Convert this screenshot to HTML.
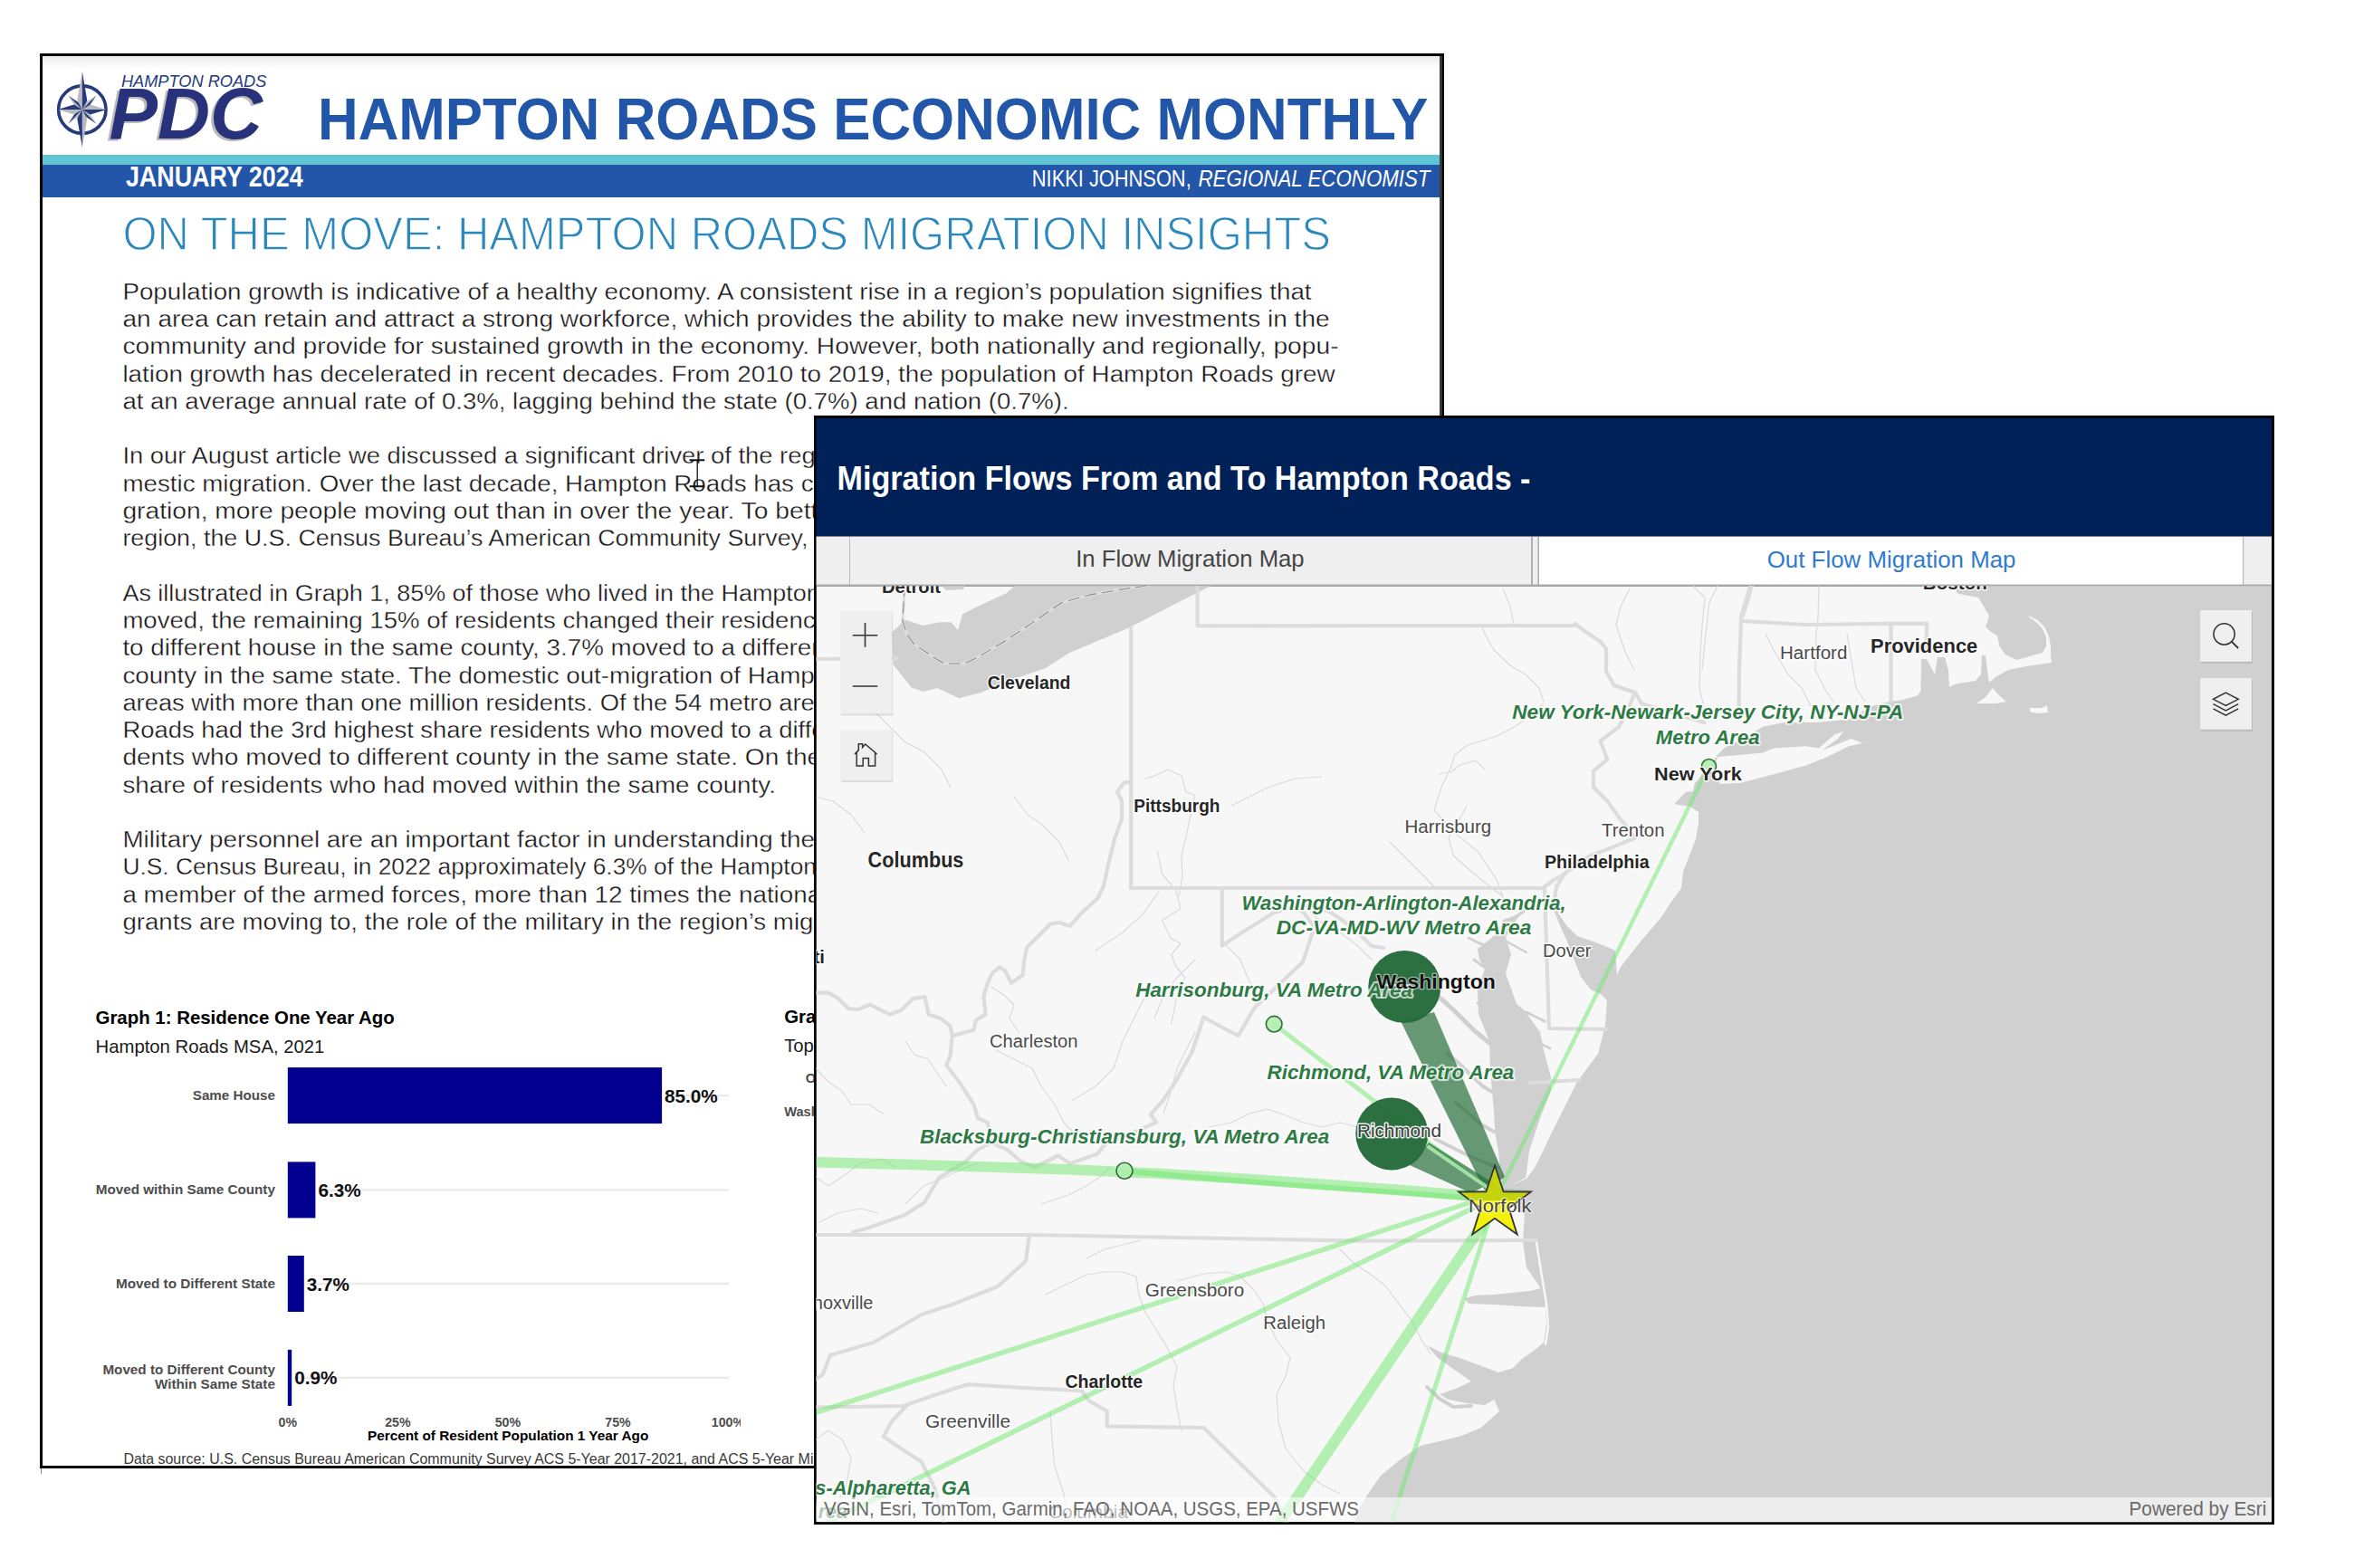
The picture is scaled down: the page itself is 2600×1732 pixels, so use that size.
<!DOCTYPE html>
<html><head><meta charset="utf-8"><title>Hampton Roads Economic Monthly - Migration Flows</title>
<style>
html,body{margin:0;padding:0;background:#fff;width:2600px;height:1732px;overflow:hidden}
svg{display:block}
text{font-family:'Liberation Sans', sans-serif;white-space:pre}
</style></head><body>
<svg width="2600" height="1732" viewBox="0 0 2600 1732">
<defs>
<linearGradient id="topshade" x1="0" y1="0" x2="0" y2="1"><stop offset="0" stop-color="#ececec"/><stop offset="1" stop-color="#ffffff"/></linearGradient>
</defs>
<rect x="0" y="0" width="2600" height="1732" fill="#ffffff"/>
<rect x="44" y="59" width="1551" height="1563" fill="#000"/>
<rect x="47" y="62" width="1543" height="1557" fill="#fff"/>
<rect x="1590" y="62" width="2.8" height="1557" fill="#3c3c3c"/>
<rect x="47" y="62" width="1543" height="14" fill="url(#topshade)"/>
<rect x="45" y="1622" width="1" height="6" fill="#888"/>
<rect x="47" y="171" width="1543" height="11" fill="#5fc4d3"/>
<rect x="47" y="182" width="1543" height="36" fill="#2356a8"/>
<g transform="translate(90.8,121.1)">
<circle r="26.2" fill="none" stroke="#263a7c" stroke-width="3.6"/>
<polygon points="15.56,-15.56 1.98,-6.51 0,0" fill="#b9babe"/>
<polygon points="15.56,-15.56 6.51,-1.98 0,0" fill="#263a7c"/>
<polygon points="15.56,15.56 6.51,1.98 0,0" fill="#b9babe"/>
<polygon points="15.56,15.56 1.98,6.51 0,0" fill="#263a7c"/>
<polygon points="-15.56,15.56 -1.98,6.51 0,0" fill="#b9babe"/>
<polygon points="-15.56,15.56 -6.51,1.98 0,0" fill="#263a7c"/>
<polygon points="-15.56,-15.56 -6.51,-1.98 0,0" fill="#b9babe"/>
<polygon points="-15.56,-15.56 -1.98,-6.51 0,0" fill="#263a7c"/>
<polygon points="0.00,-42.00 -5.50,-10.00 0,0" fill="#b9babe"/>
<polygon points="0.00,-42.00 5.50,-10.00 0,0" fill="#263a7c"/>
<polygon points="27.00,-0.00 9.00,-5.50 0,0" fill="#b9babe"/>
<polygon points="27.00,-0.00 9.00,5.50 0,0" fill="#263a7c"/>
<polygon points="0.00,42.00 5.50,10.00 0,0" fill="#b9babe"/>
<polygon points="0.00,42.00 -5.50,10.00 0,0" fill="#263a7c"/>
<polygon points="-27.00,0.00 -9.00,5.50 0,0" fill="#b9babe"/>
<polygon points="-27.00,0.00 -9.00,-5.50 0,0" fill="#263a7c"/>
</g>
<text x="133.9" y="95.9" font-size="18.9" font-weight="500" font-style="italic" fill="#263a7c" textLength="160.5" lengthAdjust="spacingAndGlyphs">HAMPTON ROADS</text>
<text x="117.5" y="155.2" font-size="80" font-weight="bold" font-style="italic" fill="#b9b9bb" textLength="170.0" lengthAdjust="spacingAndGlyphs">PDC</text>
<text x="120.5" y="153.2" font-size="80" font-weight="bold" font-style="italic" fill="#27327a" textLength="169.5" lengthAdjust="spacingAndGlyphs">PDC</text>
<text x="351.0" y="153.9" font-size="65.4" font-weight="bold" fill="#2256a8" textLength="1226.5" lengthAdjust="spacingAndGlyphs">HAMPTON ROADS ECONOMIC MONTHLY</text>
<text x="138.9" y="205.8" font-size="31.2" font-weight="bold" fill="#ffffff" textLength="195.8" lengthAdjust="spacingAndGlyphs">JANUARY 2024</text>
<text x="1139.8" y="205.7" font-size="26.2" fill="#ffffff" textLength="175.9" lengthAdjust="spacingAndGlyphs">NIKKI JOHNSON,</text>
<text x="1323.5" y="205.7" font-size="26.2" font-style="italic" fill="#ffffff" textLength="256.0" lengthAdjust="spacingAndGlyphs">REGIONAL ECONOMIST</text>
<text x="135.4" y="276.0" font-size="51.9" fill="#2a88bd" textLength="1334.5" lengthAdjust="spacingAndGlyphs" stroke="#ffffff" stroke-width="1.3">ON THE MOVE: HAMPTON ROADS MIGRATION INSIGHTS</text>
<text x="105.5" y="1131.0" font-size="20.4" font-weight="bold" fill="#000" textLength="330.3" lengthAdjust="spacingAndGlyphs">Graph 1: Residence One Year Ago</text>
<text x="105.5" y="1162.6" font-size="20.3" fill="#1a1a1a" textLength="252.9" lengthAdjust="spacingAndGlyphs">Hampton Roads MSA, 2021</text>
<rect x="734.1" y="1208.9" width="70.9" height="2.4" fill="#ebebeb"/>
<rect x="317.8" y="1179.1" width="413.3" height="62" fill="#03008f"/>
<text x="734.1" y="1217.6" font-size="20.7" font-weight="bold" fill="#111">85.0%</text>
<text x="212.8" y="1214.6" font-size="14.6" font-weight="bold" fill="#4d4d4d" textLength="91.1" lengthAdjust="spacingAndGlyphs">Same House</text>
<rect x="351.4" y="1313.2" width="453.6" height="2.4" fill="#ebebeb"/>
<rect x="317.8" y="1283.4" width="30.6" height="62" fill="#03008f"/>
<text x="351.4" y="1321.9" font-size="20.7" font-weight="bold" fill="#111">6.3%</text>
<text x="105.7" y="1318.9" font-size="14.6" font-weight="bold" fill="#4d4d4d" textLength="198.2" lengthAdjust="spacingAndGlyphs">Moved within Same County</text>
<rect x="338.8" y="1416.8" width="466.2" height="2.4" fill="#ebebeb"/>
<rect x="317.8" y="1387.0" width="18.0" height="62" fill="#03008f"/>
<text x="338.8" y="1425.5" font-size="20.7" font-weight="bold" fill="#111">3.7%</text>
<text x="127.9" y="1422.5" font-size="14.6" font-weight="bold" fill="#4d4d4d" textLength="176.0" lengthAdjust="spacingAndGlyphs">Moved to Different State</text>
<rect x="325.2" y="1520.7" width="479.8" height="2.4" fill="#ebebeb"/>
<rect x="317.8" y="1490.9" width="4.4" height="62" fill="#03008f"/>
<text x="325.2" y="1529.4" font-size="20.7" font-weight="bold" fill="#111">0.9%</text>
<text x="113.4" y="1518.4" font-size="14.6" font-weight="bold" fill="#4d4d4d" textLength="190.5" lengthAdjust="spacingAndGlyphs">Moved to Different County</text>
<text x="170.9" y="1534.4" font-size="14.6" font-weight="bold" fill="#4d4d4d" textLength="133.0" lengthAdjust="spacingAndGlyphs">Within Same State</text>
<clipPath id="axclip"><rect x="0" y="1500" width="818" height="100"/></clipPath><g clip-path="url(#axclip)">
<text x="317.8" y="1576.0" font-size="14.2" font-weight="bold" text-anchor="middle" fill="#4d4d4d">0%</text>
<text x="439.4" y="1576.0" font-size="14.2" font-weight="bold" text-anchor="middle" fill="#4d4d4d">25%</text>
<text x="560.9" y="1576.0" font-size="14.2" font-weight="bold" text-anchor="middle" fill="#4d4d4d">50%</text>
<text x="682.5" y="1576.0" font-size="14.2" font-weight="bold" text-anchor="middle" fill="#4d4d4d">75%</text>
<text x="804.0" y="1576.0" font-size="14.2" font-weight="bold" text-anchor="middle" fill="#4d4d4d">100%</text>
</g>
<text x="405.9" y="1591.3" font-size="15.3" font-weight="bold" fill="#000" textLength="310.4" lengthAdjust="spacingAndGlyphs">Percent of Resident Population 1 Year Ago</text>
<text x="136.4" y="1616.8" font-size="15.6" fill="#3a3a3a" transform="translate(136.4,0) scale(1.0235,1) translate(-136.4,0)">Data source: U.S. Census Bureau American Community Survey ACS 5-Year 2017-2021, and ACS 5-Year Microdata</text>
<text x="866.2" y="1130.3" font-size="20.4" font-weight="bold" fill="#000">Graph 2: Top</text>
<text x="866.2" y="1162.0" font-size="20.3" fill="#1a1a1a">Top Destinations</text>
<text x="889.7" y="1196.0" font-size="14.6" font-weight="bold" fill="#4d4d4d">Other</text>
<text x="866.2" y="1233.4" font-size="14.6" font-weight="bold" fill="#4d4d4d">Washington</text>
<text x="135.4" y="330.8" font-size="26" fill="#161314" textLength="1313.2" lengthAdjust="spacingAndGlyphs" stroke="#ffffff" stroke-width="0.35">Population growth is indicative of a healthy economy. A consistent rise in a region’s population signifies that</text>
<text x="135.4" y="361.1" font-size="26" fill="#161314" textLength="1333.2" lengthAdjust="spacingAndGlyphs" stroke="#ffffff" stroke-width="0.35">an area can retain and attract a strong workforce, which provides the ability to make new investments in the</text>
<text x="135.4" y="391.3" font-size="26" fill="#161314" textLength="1343.2" lengthAdjust="spacingAndGlyphs" stroke="#ffffff" stroke-width="0.35">community and provide for sustained growth in the economy. However, both nationally and regionally, popu-</text>
<text x="135.4" y="421.6" font-size="26" fill="#161314" textLength="1339.2" lengthAdjust="spacingAndGlyphs" stroke="#ffffff" stroke-width="0.35">lation growth has decelerated in recent decades. From 2010 to 2019, the population of Hampton Roads grew</text>
<text x="135.4" y="451.9" font-size="26" fill="#161314" textLength="1045.2" lengthAdjust="spacingAndGlyphs" stroke="#ffffff" stroke-width="0.35">at an average annual rate of 0.3%, lagging behind the state (0.7%) and nation (0.7%).</text>
<text x="135.4" y="512.4" font-size="26" fill="#161314" stroke="#ffffff" stroke-width="0.35" transform="translate(135.4,0) scale(1.0533,1) translate(-135.4,0)">In our August article we discussed a significant driver of the region’s population growth, do-</text>
<text x="135.4" y="542.7" font-size="26" fill="#161314" stroke="#ffffff" stroke-width="0.35" transform="translate(135.4,0) scale(1.0675,1) translate(-135.4,0)">mestic migration. Over the last decade, Hampton Roads has consistently lost residents to domestic mi-</text>
<text x="135.4" y="573.0" font-size="26" fill="#161314" stroke="#ffffff" stroke-width="0.35" transform="translate(135.4,0) scale(1.0853,1) translate(-135.4,0)">gration, more people moving out than in over the year. To better understand migration patterns in the</text>
<text x="135.4" y="603.2" font-size="26" fill="#161314" stroke="#ffffff" stroke-width="0.35" transform="translate(135.4,0) scale(1.0332,1) translate(-135.4,0)">region, the U.S. Census Bureau’s American Community Survey, tracks where residents lived one year ago.</text>
<text x="135.4" y="663.8" font-size="26" fill="#161314" stroke="#ffffff" stroke-width="0.35" transform="translate(135.4,0) scale(1.0374,1) translate(-135.4,0)">As illustrated in Graph 1, 85% of those who lived in the Hampton Roads region in 2021 had not</text>
<text x="135.4" y="694.0" font-size="26" fill="#161314" stroke="#ffffff" stroke-width="0.35" transform="translate(135.4,0) scale(1.0617,1) translate(-135.4,0)">moved, the remaining 15% of residents changed their residence in the past year: 6.3% moved</text>
<text x="135.4" y="724.3" font-size="26" fill="#161314" stroke="#ffffff" stroke-width="0.35" transform="translate(135.4,0) scale(1.0683,1) translate(-135.4,0)">to different house in the same county, 3.7% moved to a different state and 0.9% moved to a different</text>
<text x="135.4" y="754.6" font-size="26" fill="#161314" stroke="#ffffff" stroke-width="0.35" transform="translate(135.4,0) scale(1.0679,1) translate(-135.4,0)">county in the same state. The domestic out-migration of Hampton Roads is high compared to other metro</text>
<text x="135.4" y="784.9" font-size="26" fill="#161314" stroke="#ffffff" stroke-width="0.35" transform="translate(135.4,0) scale(1.0519,1) translate(-135.4,0)">areas with more than one million residents. Of the 54 metro areas with over a million residents, Hampton</text>
<text x="135.4" y="815.1" font-size="26" fill="#161314" stroke="#ffffff" stroke-width="0.35" transform="translate(135.4,0) scale(1.0540,1) translate(-135.4,0)">Roads had the 3rd highest share residents who moved to a different state and the highest share of resi-</text>
<text x="135.4" y="845.4" font-size="26" fill="#161314" stroke="#ffffff" stroke-width="0.35" transform="translate(135.4,0) scale(1.0799,1) translate(-135.4,0)">dents who moved to different county in the same state. On the other hand, Hampton Roads had a low</text>
<text x="135.4" y="875.7" font-size="26" fill="#161314" textLength="721.5" lengthAdjust="spacingAndGlyphs" stroke="#ffffff" stroke-width="0.35">share of residents who had moved within the same county.</text>
<text x="135.4" y="936.2" font-size="26" fill="#161314" stroke="#ffffff" stroke-width="0.35" transform="translate(135.4,0) scale(1.0691,1) translate(-135.4,0)">Military personnel are an important factor in understanding the region’s migration. According to the</text>
<text x="135.4" y="966.5" font-size="26" fill="#161314" stroke="#ffffff" stroke-width="0.35" transform="translate(135.4,0) scale(1.0124,1) translate(-135.4,0)">U.S. Census Bureau, in 2022 approximately 6.3% of the Hampton Roads population aged 16 and over was</text>
<text x="135.4" y="996.7" font-size="26" fill="#161314" stroke="#ffffff" stroke-width="0.35" transform="translate(135.4,0) scale(1.0709,1) translate(-135.4,0)">a member of the armed forces, more than 12 times the national share. To understand where out-mi-</text>
<text x="135.4" y="1027.0" font-size="26" fill="#161314" stroke="#ffffff" stroke-width="0.35" transform="translate(135.4,0) scale(1.0634,1) translate(-135.4,0)">grants are moving to, the role of the military in the region’s migration patterns is important.</text>
<path d="M761.6,508.2 H778.2 M761.6,537.3 H778.2" stroke="#111" stroke-width="1.9" fill="none"/><path d="M770.2,508.2 V537.3" stroke="#111" stroke-width="1.3" fill="none"/>
<rect x="899" y="459" width="1613" height="1225" fill="#000"/>
<rect x="901.5" y="462" width="1607.5" height="130.5" fill="#002157"/>
<text x="924.5" y="541.0" font-size="37.8" font-weight="bold" fill="#ffffff" textLength="766.0" lengthAdjust="spacingAndGlyphs">Migration Flows From and To Hampton Roads -</text>
<rect x="901.5" y="592.5" width="1607.5" height="54" fill="#efefef"/>
<rect x="938" y="593" width="1" height="53" fill="#bdbdbd"/>
<rect x="1691" y="593" width="2" height="53" fill="#b0b0b0"/>
<rect x="1698.5" y="593" width="1.5" height="53" fill="#a8b0ac"/>
<rect x="1700" y="593" width="777" height="53" fill="#ffffff"/>
<rect x="2477" y="593" width="1.2" height="53" fill="#b8b8b8"/>
<rect x="901.5" y="645.6" width="1607.5" height="1.6" fill="#a9a9a9"/>
<text x="1188.2" y="626.4" font-size="25.6" fill="#454545" textLength="252.4" lengthAdjust="spacingAndGlyphs">In Flow Migration Map</text>
<text x="1951.7" y="626.9" font-size="25.6" fill="#2f7bd0" textLength="274.8" lengthAdjust="spacingAndGlyphs">Out Flow Migration Map</text>
<svg x="901.5" y="647.2" width="1607.5" height="1034" viewBox="901.5 647.2 1607.5 1034" overflow="hidden">
<rect x="901.5" y="647.2" width="1607.5" height="1034" fill="#f7f7f7"/>
<polygon points="2161.0,640.0 2161.0,655.0 2164.0,656.0 2185.0,660.0 2191.0,670.0 2197.0,680.0 2195.0,687.0 2193.0,692.0 2199.0,698.0 2206.0,702.0 2208.5,714.0 2215.0,723.0 2228.0,729.0 2238.0,726.0 2256.0,721.0 2260.0,714.0 2260.0,704.0 2256.0,695.0 2250.0,688.0 2241.0,681.5 2237.0,680.5 2243.0,681.0 2252.0,686.0 2259.0,694.0 2263.0,703.0 2265.0,714.0 2265.0,724.0 2266.0,732.0 2252.0,734.0 2238.0,736.0 2218.0,740.0 2204.0,748.0 2197.0,754.0 2195.0,740.0 2193.0,724.0 2189.0,724.0 2188.0,745.0 2182.0,752.0 2169.0,754.0 2159.0,756.0 2153.0,759.0 2152.0,740.0 2148.0,726.0 2140.0,726.0 2137.0,745.0 2128.0,728.0 2122.0,728.0 2121.5,763.6 2117.6,768.6 2100.0,773.5 2089.8,774.3 2066.0,780.2 2042.2,794.5 2006.5,798.0 1970.8,798.0 1947.0,802.8 1923.3,817.1 1905.4,825.4 1897.0,833.7 1890.0,845.0 1881.6,852.0 1876.0,861.0 1869.7,867.0 1858.0,879.0 1849.0,888.0 1867.0,891.0 1876.0,897.0 1876.0,909.0 1873.0,927.0 1866.0,945.0 1859.0,963.0 1857.0,981.0 1844.0,999.0 1835.0,1013.0 1823.0,1027.0 1812.0,1040.0 1801.0,1054.0 1790.0,1068.0 1786.0,1077.0 1784.0,1050.0 1775.0,1046.0 1760.0,1040.0 1742.0,1034.0 1730.0,1022.0 1722.0,1010.0 1719.0,1002.0 1716.0,1005.0 1722.0,1020.0 1731.0,1040.0 1739.0,1061.0 1746.0,1079.0 1757.0,1093.0 1768.0,1098.0 1775.0,1105.0 1773.0,1133.0 1765.0,1164.0 1742.0,1195.0 1725.0,1229.0 1713.0,1253.0 1704.0,1272.0 1695.0,1290.0 1686.0,1302.0 1668.0,1310.0 1662.0,1322.0 1684.0,1342.0 1682.0,1372.0 1686.0,1400.0 1701.0,1422.0 1704.0,1432.0 1707.0,1445.0 1708.0,1463.0 1705.0,1483.0 1694.0,1492.0 1681.0,1501.0 1670.0,1512.0 1656.0,1521.0 1642.0,1530.0 1650.0,1545.0 1656.0,1559.0 1636.0,1577.0 1614.0,1586.0 1590.0,1592.0 1569.0,1597.0 1547.0,1612.0 1525.0,1630.0 1509.0,1653.0 1500.0,1668.0 1494.0,1690.0 2520.0,1690.0 2520.0,640.0" fill="#d0d0d0"/>
<polygon points="1684.0,1004.0 1672.0,1012.0 1660.0,1016.0 1654.0,1030.0 1645.0,1038.0 1632.0,1048.0 1634.0,1060.0 1640.0,1070.0 1632.0,1095.0 1633.0,1120.0 1645.0,1150.0 1646.0,1180.0 1648.0,1205.0 1650.0,1229.0 1651.5,1253.0 1655.0,1271.5 1657.5,1300.0 1662.0,1322.0 1668.0,1310.0 1685.0,1301.0 1686.0,1296.0 1689.0,1271.5 1701.0,1235.0 1713.0,1205.0 1713.0,1190.0 1705.0,1160.0 1701.0,1140.0 1690.0,1125.0 1686.0,1118.0 1675.0,1109.0 1669.0,1092.0 1663.0,1075.0 1669.0,1054.0 1663.0,1035.0 1676.0,1014.0 1686.0,1006.0" fill="#d0d0d0"/>
<polyline points="1556.0,1072.0 1575.0,1090.0 1595.0,1106.0 1612.0,1122.0 1628.0,1138.0 1645.0,1152.0" fill="none" stroke="#d0d0d0" stroke-width="5" stroke-linejoin="round" stroke-linecap="round"/>
<polyline points="1598.0,1163.0 1612.0,1175.0 1625.0,1188.0 1638.0,1200.0 1648.0,1206.0" fill="none" stroke="#d0d0d0" stroke-width="4" stroke-linejoin="round" stroke-linecap="round"/>
<polyline points="1608.0,1218.0 1622.0,1230.0 1636.0,1242.0 1650.0,1250.0" fill="none" stroke="#d0d0d0" stroke-width="4" stroke-linejoin="round" stroke-linecap="round"/>
<polyline points="1585.0,1258.0 1605.0,1268.0 1625.0,1278.0 1645.0,1286.0 1656.0,1290.0" fill="none" stroke="#d0d0d0" stroke-width="4" stroke-linejoin="round" stroke-linecap="round"/>
<polyline points="1622.0,1036.0 1634.0,1042.0 1645.0,1046.0" fill="none" stroke="#d0d0d0" stroke-width="3" stroke-linejoin="round" stroke-linecap="round"/>
<polyline points="1628.0,1060.0 1636.0,1066.0 1642.0,1070.0" fill="none" stroke="#d0d0d0" stroke-width="3" stroke-linejoin="round" stroke-linecap="round"/>
<polyline points="1632.0,1108.0 1640.0,1112.0" fill="none" stroke="#d0d0d0" stroke-width="3" stroke-linejoin="round" stroke-linecap="round"/>
<polyline points="1686.0,1118.0 1698.0,1124.0 1706.0,1128.0" fill="none" stroke="#d0d0d0" stroke-width="3" stroke-linejoin="round" stroke-linecap="round"/>
<polyline points="1690.0,1145.0 1700.0,1152.0 1712.0,1158.0" fill="none" stroke="#d0d0d0" stroke-width="3" stroke-linejoin="round" stroke-linecap="round"/>
<polyline points="1664.0,1040.0 1675.0,1046.0 1686.0,1052.0" fill="none" stroke="#d0d0d0" stroke-width="2.5" stroke-linejoin="round" stroke-linecap="round"/>
<polygon points="1121.8,646.0 1111.6,655.3 1078.4,670.6 1063.1,678.2 1058.0,696.0 1050.4,687.2 1037.6,687.2 1019.8,691.0 999.4,684.6 985.4,698.6 985.4,703.7 986.7,734.3 1007.0,759.8 1020.0,764.0 1035.0,760.0 1059.3,771.3 1083.5,764.9 1120.0,750.0 1155.0,738.0 1180.4,721.6 1246.7,693.5 1300.0,666.0 1340.0,646.0" fill="#d0d0d0"/>
<polygon points="1039.0,646.0 1066.0,646.0 1064.0,651.0 1045.0,652.0" fill="#d0d0d0"/>
<polygon points="1706.0,1422.0 1690.0,1426.0 1670.0,1428.0 1650.0,1430.0 1630.0,1431.0 1618.0,1434.0 1622.0,1440.0 1650.0,1441.0 1680.0,1443.0 1706.0,1444.0" fill="#d0d0d0"/>
<polygon points="1576.0,1486.0 1592.0,1494.0 1612.0,1500.0 1634.0,1508.0 1655.0,1516.0 1675.0,1510.0 1690.0,1500.0 1680.0,1520.0 1660.0,1540.0 1640.0,1552.0 1620.0,1550.0 1600.0,1546.0 1590.0,1540.0 1605.0,1535.0 1625.0,1526.0 1605.0,1512.0 1588.0,1500.0" fill="#d0d0d0"/>
<polyline points="1576.0,1532.0 1590.0,1545.0 1605.0,1554.0 1625.0,1553.0" fill="none" stroke="#d0d0d0" stroke-width="4" stroke-linejoin="round" stroke-linecap="round"/>
<polygon points="1897.0,836.0 1923.0,833.7 1947.0,831.4 1959.0,826.6 1994.6,824.2 2009.0,826.6 2026.7,811.0 2036.0,808.0 2030.0,816.0 2012.0,829.0 2044.6,815.9 2057.7,820.7 2042.0,824.2 2018.4,836.1 1994.6,845.6 1959.0,855.2 1923.3,864.7 1900.0,866.0 1893.0,852.0" fill="#f7f7f7"/>
<polygon points="1862.0,866.0 1872.0,864.0 1870.0,874.0 1860.0,875.0" fill="#f7f7f7"/>
<polygon points="2183.0,777.0 2193.0,770.0 2201.0,760.0 2208.0,768.0 2216.0,775.0 2205.0,777.0" fill="#f7f7f7"/>
<polygon points="2242.0,782.0 2255.0,782.0 2261.0,779.0 2262.0,787.0 2250.0,788.0 2242.0,786.0" fill="#f7f7f7"/>
<polyline points="1697.0,1372.0 1703.0,1410.0 1708.0,1440.0 1710.0,1465.0 1707.0,1485.0" fill="none" stroke="#f7f7f7" stroke-width="2.5" stroke-linejoin="round" stroke-linecap="round"/>
<polyline points="1265.0,860.0 1275.0,857.0 1290.0,850.0 1305.0,857.0 1310.0,875.0 1320.0,878.0 1315.0,900.0 1310.0,925.0 1305.0,945.0 1306.0,968.0 1302.0,990.0" fill="none" stroke="#dadada" stroke-width="1.2" stroke-linejoin="round" stroke-linecap="round"/>
<polyline points="1590.0,855.0 1604.0,852.0 1612.0,845.0 1630.0,840.0 1640.0,850.0" fill="none" stroke="#dadada" stroke-width="1.2" stroke-linejoin="round" stroke-linecap="round"/>
<polyline points="1636.0,690.0 1640.0,700.0 1650.0,718.0 1668.0,735.0 1685.0,745.0 1700.0,760.0 1705.0,775.0" fill="none" stroke="#dadada" stroke-width="1.2" stroke-linejoin="round" stroke-linecap="round"/>
<polyline points="1870.0,647.0 1883.0,660.0 1880.0,691.0 1878.0,720.0 1877.0,760.0 1885.0,793.0" fill="none" stroke="#dadada" stroke-width="1.2" stroke-linejoin="round" stroke-linecap="round"/>
<polyline points="1897.0,647.0 1888.0,665.0 1884.0,700.0 1880.0,740.0" fill="none" stroke="#dadada" stroke-width="1.2" stroke-linejoin="round" stroke-linecap="round"/>
<polyline points="2009.0,647.0 2008.0,683.0 2006.0,700.0 2005.0,740.0 2015.0,760.0 2025.0,775.0" fill="none" stroke="#dadada" stroke-width="1.2" stroke-linejoin="round" stroke-linecap="round"/>
<polyline points="1620.0,890.0 1612.0,905.0 1600.0,925.0 1605.0,945.0 1622.0,960.0 1640.0,975.0 1660.0,990.0" fill="none" stroke="#dadada" stroke-width="1.2" stroke-linejoin="round" stroke-linecap="round"/>
<polyline points="1535.0,930.0 1545.0,940.0 1560.0,955.0 1575.0,970.0 1585.0,981.0" fill="none" stroke="#dadada" stroke-width="1.2" stroke-linejoin="round" stroke-linecap="round"/>
<polyline points="1100.0,1160.0 1120.0,1170.0 1140.0,1180.0 1150.0,1200.0 1165.0,1220.0 1175.0,1240.0 1190.0,1255.0" fill="none" stroke="#dadada" stroke-width="1.2" stroke-linejoin="round" stroke-linecap="round"/>
<polyline points="1095.0,1090.0 1110.0,1100.0 1120.0,1110.0 1115.0,1125.0 1125.0,1140.0" fill="none" stroke="#dadada" stroke-width="1.2" stroke-linejoin="round" stroke-linecap="round"/>
<polyline points="1210.0,1050.0 1240.0,1030.0 1262.0,1010.0 1280.0,985.0" fill="none" stroke="#dadada" stroke-width="1.2" stroke-linejoin="round" stroke-linecap="round"/>
<polyline points="1270.0,1090.0 1255.0,1120.0 1240.0,1150.0 1230.0,1180.0 1210.0,1200.0 1185.0,1215.0" fill="none" stroke="#dadada" stroke-width="1.2" stroke-linejoin="round" stroke-linecap="round"/>
<polyline points="1320.0,1060.0 1300.0,1080.0 1285.0,1100.0 1275.0,1125.0" fill="none" stroke="#dadada" stroke-width="1.2" stroke-linejoin="round" stroke-linecap="round"/>
<polyline points="1335.0,1245.0 1360.0,1240.0 1380.0,1230.0 1400.0,1225.0 1420.0,1232.0 1440.0,1240.0 1460.0,1245.0 1480.0,1240.0 1500.0,1245.0" fill="none" stroke="#dadada" stroke-width="1.2" stroke-linejoin="round" stroke-linecap="round"/>
<polyline points="1000.0,1330.0 1020.0,1310.0 1045.0,1300.0 1065.0,1290.0 1080.0,1285.0" fill="none" stroke="#dadada" stroke-width="1.2" stroke-linejoin="round" stroke-linecap="round"/>
<polyline points="905.0,1350.0 925.0,1340.0 950.0,1335.0 970.0,1340.0" fill="none" stroke="#dadada" stroke-width="1.2" stroke-linejoin="round" stroke-linecap="round"/>
<polyline points="1150.0,1330.0 1180.0,1320.0 1200.0,1310.0 1215.0,1300.0 1225.0,1290.0" fill="none" stroke="#dadada" stroke-width="1.2" stroke-linejoin="round" stroke-linecap="round"/>
<polyline points="1200.0,1390.0 1220.0,1380.0 1240.0,1375.0 1260.0,1370.0" fill="none" stroke="#dadada" stroke-width="1.2" stroke-linejoin="round" stroke-linecap="round"/>
<polyline points="1155.0,1430.0 1175.0,1420.0 1200.0,1408.0 1220.0,1405.0 1240.0,1405.0 1255.0,1410.0 1258.0,1430.0 1265.0,1450.0 1278.0,1470.0 1290.0,1490.0 1300.0,1510.0 1296.0,1530.0 1300.0,1555.0 1305.0,1580.0" fill="none" stroke="#dadada" stroke-width="1.2" stroke-linejoin="round" stroke-linecap="round"/>
<polyline points="1300.0,1415.0 1330.0,1407.0 1355.0,1405.0 1370.0,1410.0 1385.0,1425.0 1395.0,1440.0 1400.0,1460.0 1410.0,1480.0 1425.0,1500.0 1420.0,1520.0 1410.0,1540.0 1412.0,1570.0 1420.0,1600.0 1440.0,1625.0 1460.0,1640.0 1480.0,1650.0" fill="none" stroke="#dadada" stroke-width="1.2" stroke-linejoin="round" stroke-linecap="round"/>
<polyline points="1160.0,1560.0 1162.0,1590.0 1165.0,1620.0 1175.0,1650.0 1180.0,1681.0" fill="none" stroke="#dadada" stroke-width="1.2" stroke-linejoin="round" stroke-linecap="round"/>
<polyline points="901.0,1590.0 915.0,1580.0 930.0,1590.0 940.0,1610.0 935.0,1640.0 925.0,1660.0" fill="none" stroke="#dadada" stroke-width="1.2" stroke-linejoin="round" stroke-linecap="round"/>
<polyline points="1480.0,1380.0 1495.0,1395.0 1510.0,1405.0 1530.0,1420.0 1545.0,1440.0 1560.0,1460.0 1570.0,1480.0 1580.0,1495.0" fill="none" stroke="#dadada" stroke-width="1.2" stroke-linejoin="round" stroke-linecap="round"/>
<polyline points="901.0,1300.0 915.0,1310.0 930.0,1300.0 950.0,1285.0 975.0,1280.0 990.0,1290.0" fill="none" stroke="#dadada" stroke-width="1.2" stroke-linejoin="round" stroke-linecap="round"/>
<polyline points="901.0,1180.0 915.0,1195.0 930.0,1205.0 940.0,1220.0 960.0,1220.0 975.0,1230.0" fill="none" stroke="#dadada" stroke-width="1.2" stroke-linejoin="round" stroke-linecap="round"/>
<polyline points="1000.0,1150.0 1010.0,1165.0 1025.0,1170.0 1035.0,1185.0 1045.0,1200.0" fill="none" stroke="#dadada" stroke-width="1.2" stroke-linejoin="round" stroke-linecap="round"/>
<polyline points="1704.0,777.6 1690.0,790.0 1673.0,803.0 1653.0,813.0 1620.0,823.5 1607.0,833.7 1602.0,849.0 1592.0,869.4 1584.0,895.0 1607.0,920.4 1632.5,940.8 1653.0,971.4 1663.0,1000.0 1675.0,1006.0" fill="none" stroke="#dadada" stroke-width="1.2" stroke-linejoin="round" stroke-linecap="round"/>
<polyline points="1278.4,940.0 1283.5,965.5 1298.8,983.3 1304.0,1003.7 1283.5,1016.5 1293.7,1036.9 1304.0,1042.0 1293.7,1054.7 1298.8,1067.5 1309.0,1080.2 1301.4,1093.0 1296.3,1118.4 1293.7,1131.2" fill="none" stroke="#dadada" stroke-width="1.2" stroke-linejoin="round" stroke-linecap="round"/>
<polyline points="1355.0,1045.0 1370.0,1060.0 1378.0,1080.0 1390.0,1100.0" fill="none" stroke="#dadada" stroke-width="1.2" stroke-linejoin="round" stroke-linecap="round"/>
<polyline points="1320.0,1140.0 1310.0,1160.0 1300.0,1180.0 1292.0,1210.0 1285.0,1230.0" fill="none" stroke="#dadada" stroke-width="1.2" stroke-linejoin="round" stroke-linecap="round"/>
<polyline points="1440.0,1000.0 1460.0,1020.0 1480.0,1030.0 1500.0,1045.0 1515.0,1060.0" fill="none" stroke="#dadada" stroke-width="1.2" stroke-linejoin="round" stroke-linecap="round"/>
<polyline points="1660.0,650.0 1668.0,670.0 1672.0,690.0" fill="none" stroke="#dadada" stroke-width="1.2" stroke-linejoin="round" stroke-linecap="round"/>
<polyline points="1800.0,650.0 1790.0,670.0 1785.0,690.0 1795.0,720.0 1805.0,740.0" fill="none" stroke="#dadada" stroke-width="1.2" stroke-linejoin="round" stroke-linecap="round"/>
<polyline points="1950.0,700.0 1960.0,720.0 1975.0,745.0 1990.0,760.0 2000.0,780.0" fill="none" stroke="#dadada" stroke-width="1.2" stroke-linejoin="round" stroke-linecap="round"/>
<polyline points="2040.0,700.0 2045.0,730.0 2050.0,760.0 2060.0,775.0" fill="none" stroke="#dadada" stroke-width="1.2" stroke-linejoin="round" stroke-linecap="round"/>
<polyline points="1360.0,890.0 1380.0,880.0 1400.0,870.0 1430.0,860.0 1460.0,858.0" fill="none" stroke="#dadada" stroke-width="1.2" stroke-linejoin="round" stroke-linecap="round"/>
<polyline points="960.0,780.0 980.0,800.0 1000.0,820.0 1020.0,830.0 1040.0,850.0 1050.0,870.0" fill="none" stroke="#dadada" stroke-width="1.2" stroke-linejoin="round" stroke-linecap="round"/>
<polyline points="901.0,880.0 920.0,885.0 940.0,900.0 955.0,920.0" fill="none" stroke="#dadada" stroke-width="1.2" stroke-linejoin="round" stroke-linecap="round"/>
<polyline points="1120.0,880.0 1135.0,900.0 1150.0,910.0 1170.0,930.0 1180.0,950.0" fill="none" stroke="#dadada" stroke-width="1.2" stroke-linejoin="round" stroke-linecap="round"/>
<polyline points="901.0,728.0 990.0,727.0" fill="none" stroke="#dcdcdc" stroke-width="4.2" stroke-linejoin="round" stroke-linecap="round"/>
<polyline points="1249.2,693.0 1249.2,981.0" fill="none" stroke="#dcdcdc" stroke-width="4.2" stroke-linejoin="round" stroke-linecap="round"/>
<polyline points="1322.6,647.0 1322.6,691.3 1739.6,691.0" fill="none" stroke="#dcdcdc" stroke-width="4.2" stroke-linejoin="round" stroke-linecap="round"/>
<polyline points="1739.6,689.0 1752.4,698.6 1767.6,708.8 1774.0,716.5 1774.0,742.0 1783.0,757.3 1806.0,765.0 1813.5,777.6 1882.4,798.0" fill="none" stroke="#dcdcdc" stroke-width="4.2" stroke-linejoin="round" stroke-linecap="round"/>
<polyline points="1806.0,765.0 1795.0,790.0 1788.0,803.0 1767.6,818.4 1775.3,838.8 1760.0,851.6 1760.0,869.4 1775.3,884.7 1788.0,902.6 1798.2,915.3 1806.0,925.5 1788.0,933.0 1755.0,946.0 1729.4,963.7 1719.2,979.0 1716.0,1000.0" fill="none" stroke="#dcdcdc" stroke-width="4.2" stroke-linejoin="round" stroke-linecap="round"/>
<polyline points="1249.2,981.0 1704.0,981.0" fill="none" stroke="#dcdcdc" stroke-width="4.2" stroke-linejoin="round" stroke-linecap="round"/>
<polyline points="1704.0,981.0 1716.0,972.0 1729.0,965.0" fill="none" stroke="#dcdcdc" stroke-width="4.2" stroke-linejoin="round" stroke-linecap="round"/>
<polyline points="1706.0,983.0 1711.0,1136.0 1775.0,1137.0" fill="none" stroke="#dcdcdc" stroke-width="4.2" stroke-linejoin="round" stroke-linecap="round"/>
<polyline points="1690.0,1196.0 1745.0,1193.0" fill="none" stroke="#dcdcdc" stroke-width="4.2" stroke-linejoin="round" stroke-linecap="round"/>
<polyline points="1349.8,981.0 1349.8,1044.5 1375.0,1028.0 1405.9,1008.8 1428.8,1001.0 1450.0,1000.0 1470.0,1008.0 1482.0,1016.0 1500.0,1030.0 1515.0,1045.0 1528.0,1047.0" fill="none" stroke="#dcdcdc" stroke-width="4.2" stroke-linejoin="round" stroke-linecap="round"/>
<polyline points="1429.0,1001.0 1440.0,1008.0 1451.8,1024.0 1439.0,1062.4 1410.0,1090.0 1385.5,1113.3 1367.6,1144.0 1350.0,1135.0 1329.4,1123.5 1316.7,1161.8 1298.9,1194.1 1285.0,1215.0 1270.7,1231.0 1277.2,1239.7 1250.0,1252.0 1220.9,1263.5 1212.2,1274.4 1181.8,1285.2 1168.8,1276.5 1142.8,1289.5 1127.6,1283.0 1112.5,1270.0 1095.0,1262.0" fill="none" stroke="#dcdcdc" stroke-width="4.2" stroke-linejoin="round" stroke-linecap="round"/>
<polyline points="1249.0,864.0 1241.6,864.3 1234.0,874.5 1239.0,884.7 1239.0,905.0 1231.4,925.5 1226.3,945.9 1223.0,960.0 1218.7,979.5 1212.2,992.5 1195.0,1008.0 1181.8,1022.9 1170.0,1019.0 1160.2,1020.7 1147.2,1033.7 1134.1,1046.7 1131.0,1062.0 1129.8,1077.0 1116.8,1085.7 1110.0,1072.0 1103.8,1068.4 1096.0,1075.0 1090.8,1085.7 1086.4,1101.0 1088.6,1120.4 1077.8,1127.0 1075.6,1137.8 1051.8,1144.3 1049.6,1133.4 1038.8,1124.8 1025.7,1120.4 1021.4,1101.0 1008.4,1103.1 995.4,1116.1 982.4,1120.4 960.7,1109.6 947.7,1115.0 936.9,1114.0 926.0,1103.1 915.2,1096.6 900.0,1096.6" fill="none" stroke="#dcdcdc" stroke-width="4.2" stroke-linejoin="round" stroke-linecap="round"/>
<polyline points="1051.8,1144.3 1049.6,1166.0 1045.3,1176.8 1060.4,1196.3 1075.6,1220.2 1080.0,1235.3 1090.8,1239.7 1095.0,1262.0 1080.0,1270.0 1065.6,1283.7 1037.5,1300.5 1020.7,1328.6 998.0,1342.6 960.0,1356.0 942.0,1361.0" fill="none" stroke="#dcdcdc" stroke-width="4.2" stroke-linejoin="round" stroke-linecap="round"/>
<polyline points="900.0,1364.0 1137.0,1364.0 1300.0,1367.0 1500.0,1370.7 1697.0,1370.0" fill="none" stroke="#dcdcdc" stroke-width="4.2" stroke-linejoin="round" stroke-linecap="round"/>
<polyline points="1137.0,1364.0 1133.0,1393.0 1102.0,1421.0 1051.5,1441.0 1018.0,1452.0 964.5,1483.0 917.0,1497.0 908.4,1519.0 900.0,1523.6" fill="none" stroke="#dcdcdc" stroke-width="4.2" stroke-linejoin="round" stroke-linecap="round"/>
<polyline points="900.0,1554.5 998.0,1553.0 1035.0,1540.0 1068.4,1529.2 1130.0,1533.0 1194.7,1536.2 1203.0,1547.5 1222.7,1558.7 1222.7,1575.5 1329.4,1577.0 1408.0,1654.0 1425.0,1690.0" fill="none" stroke="#dcdcdc" stroke-width="4.2" stroke-linejoin="round" stroke-linecap="round"/>
<polyline points="1001.0,1553.0 985.0,1570.0 975.8,1586.8 995.0,1600.0 1017.9,1614.8 1031.9,1643.0 1045.0,1690.0" fill="none" stroke="#dcdcdc" stroke-width="4.2" stroke-linejoin="round" stroke-linecap="round"/>
<polyline points="1933.3,647.0 1923.2,680.8 1921.0,740.0 1920.6,790.0" fill="none" stroke="#dcdcdc" stroke-width="4.2" stroke-linejoin="round" stroke-linecap="round"/>
<polyline points="1923.0,685.9 1992.8,690.0 2088.0,688.8 2128.4,688.8 2127.2,718.5" fill="none" stroke="#dcdcdc" stroke-width="4.2" stroke-linejoin="round" stroke-linecap="round"/>
<polyline points="2088.6,690.0 2088.6,775.0" fill="none" stroke="#dcdcdc" stroke-width="4.2" stroke-linejoin="round" stroke-linecap="round"/>
<polyline points="1925.0,680.0 1935.0,647.0" fill="none" stroke="#dcdcdc" stroke-width="4.2" stroke-linejoin="round" stroke-linecap="round"/>
<polyline points="999.4,646.0 996.9,685.9 1002.0,701.2 1009.6,711.4 1032.5,726.7 1042.7,733.0 1065.7,733.0 1078.4,726.7 1109.0,708.8 1139.6,688.4 1172.7,665.5 1205.9,656.6 1244.1,650.2 1269.6,646.4" fill="none" stroke="#dedede" stroke-width="3.2" stroke-linejoin="round" stroke-linecap="round"/>
<polyline points="999.4,646.0 996.9,685.9 1002.0,701.2 1009.6,711.4 1032.5,726.7 1042.7,733.0 1065.7,733.0 1078.4,726.7 1109.0,708.8 1139.6,688.4 1172.7,665.5 1205.9,656.6 1244.1,650.2 1269.6,646.4" fill="none" stroke="#8c8c8c" stroke-width="1.1" stroke-linejoin="round" stroke-linecap="round" stroke-dasharray="12,7" stroke-linecap="butt"/>
<polyline points="880.0,1283.2 1000.0,1286.3 1100.0,1289.2 1180.0,1291.8 1280.0,1296.3 1380.0,1302.5 1480.0,1309.5 1560.0,1315.5 1628.0,1321.0" fill="none" stroke="#6de86b" stroke-width="11.5" stroke-opacity="0.5" stroke-linecap="butt" stroke-linejoin="round"/>
<polyline points="1242.0,1293.5 1340.0,1302.0 1440.0,1310.0 1540.0,1317.0 1628.0,1323.5" fill="none" stroke="#6de86b" stroke-width="6" stroke-opacity="0.5" stroke-linecap="butt" stroke-linejoin="round"/>
<polyline points="880.0,1567.0 1628.0,1327.0" fill="none" stroke="#6de86b" stroke-width="5.5" stroke-opacity="0.5" stroke-linecap="butt" stroke-linejoin="round"/>
<polyline points="880.0,1698.0 1628.0,1334.0" fill="none" stroke="#6de86b" stroke-width="5.5" stroke-opacity="0.5" stroke-linecap="butt" stroke-linejoin="round"/>
<polyline points="1401.0,1700.0 1648.0,1337.0" fill="none" stroke="#6de86b" stroke-width="12" stroke-opacity="0.5" stroke-linecap="butt" stroke-linejoin="round"/>
<polyline points="1530.6,1700.0 1649.0,1335.0" fill="none" stroke="#6de86b" stroke-width="5" stroke-opacity="0.5" stroke-linecap="butt" stroke-linejoin="round"/>
<polyline points="1887.5,846.5 1655.0,1318.0" fill="none" stroke="#6de86b" stroke-width="4.5" stroke-opacity="0.5" stroke-linecap="butt" stroke-linejoin="round"/>
<polyline points="1407.2,1131.2 1645.0,1314.0" fill="none" stroke="#6de86b" stroke-width="5" stroke-opacity="0.5" stroke-linecap="butt" stroke-linejoin="round"/>
<polygon points="1547.0,1128.0 1584.0,1118.0 1662.0,1300.0 1640.0,1315.0" fill="#1f6a33" fill-opacity="0.68"/>
<polygon points="1578.0,1262.0 1557.0,1287.0 1625.0,1318.0 1648.0,1306.0" fill="#1f6a33" fill-opacity="0.68"/>
<circle cx="1551.3" cy="1090" r="40" fill="#256a3a" fill-opacity="0.97"/>
<circle cx="1537.3" cy="1252.4" r="40" fill="#256a3a" fill-opacity="0.97"/>
<circle cx="1407.2" cy="1131.2" r="8.8" fill="#b3ecaf" fill-opacity="0.9" stroke="#2a6e3c" stroke-width="1.6"/>
<circle cx="1242" cy="1293.2" r="9.0" fill="#b3ecaf" fill-opacity="0.9" stroke="#2a6e3c" stroke-width="1.6"/>
<circle cx="1887.5" cy="846.5" r="8.0" fill="#b3ecaf" fill-opacity="0.9" stroke="#2a6e3c" stroke-width="1.6"/>
<polyline points="1576.6,1266.0 1645.0,1313.0" fill="none" stroke="#b9f0b5" stroke-width="4" stroke-opacity="0.8" stroke-linecap="butt" stroke-linejoin="round"/>
<polygon points="1651.0,1287.5 1660.6,1316.3 1690.9,1316.5 1666.5,1334.5 1675.7,1363.5 1651.0,1345.8 1626.3,1363.5 1635.5,1334.5 1611.1,1316.5 1641.4,1316.3" fill="#f2f20a" stroke="#333" stroke-width="1.8" stroke-linejoin="miter"/>
<polygon points="1651.0,1290.0 1659.0,1313.0 1690.0,1315.0 1676.0,1326.0 1626.0,1326.0 1612.0,1315.0 1642.0,1315.0" fill="#2a6a2a" fill-opacity="0.22"/>
<text x="974.0" y="655.0" font-size="20.3" font-weight="bold" textLength="65.0" lengthAdjust="spacingAndGlyphs" fill="#ffffff" stroke="#ffffff" stroke-width="3" stroke-opacity="0.85" fill-opacity="0.85" stroke-linejoin="round">Detroit</text>
<text x="974.0" y="655.0" font-size="20.3" font-weight="bold" textLength="65.0" lengthAdjust="spacingAndGlyphs" fill="#262626">Detroit</text>
<text x="2123.7" y="650.7" font-size="20.3" font-weight="bold" textLength="71.3" lengthAdjust="spacingAndGlyphs" fill="#ffffff" stroke="#ffffff" stroke-width="3" stroke-opacity="0.85" fill-opacity="0.85" stroke-linejoin="round">Boston</text>
<text x="2123.7" y="650.7" font-size="20.3" font-weight="bold" textLength="71.3" lengthAdjust="spacingAndGlyphs" fill="#262626">Boston</text>
<text x="1090.7" y="761.0" font-size="20.3" font-weight="bold" textLength="91.7" lengthAdjust="spacingAndGlyphs" fill="#ffffff" stroke="#ffffff" stroke-width="3" stroke-opacity="0.85" fill-opacity="0.85" stroke-linejoin="round">Cleveland</text>
<text x="1090.7" y="761.0" font-size="20.3" font-weight="bold" textLength="91.7" lengthAdjust="spacingAndGlyphs" fill="#262626">Cleveland</text>
<text x="1252.3" y="896.6" font-size="20.3" font-weight="bold" textLength="95.1" lengthAdjust="spacingAndGlyphs" fill="#ffffff" stroke="#ffffff" stroke-width="3" stroke-opacity="0.85" fill-opacity="0.85" stroke-linejoin="round">Pittsburgh</text>
<text x="1252.3" y="896.6" font-size="20.3" font-weight="bold" textLength="95.1" lengthAdjust="spacingAndGlyphs" fill="#262626">Pittsburgh</text>
<text x="958.6" y="958.0" font-size="23" font-weight="bold" textLength="105.8" lengthAdjust="spacingAndGlyphs" fill="#ffffff" stroke="#ffffff" stroke-width="3" stroke-opacity="0.85" fill-opacity="0.85" stroke-linejoin="round">Columbus</text>
<text x="958.6" y="958.0" font-size="23" font-weight="bold" textLength="105.8" lengthAdjust="spacingAndGlyphs" fill="#262626">Columbus</text>
<text x="2066.0" y="720.9" font-size="21.5" font-weight="bold" textLength="118.3" lengthAdjust="spacingAndGlyphs" fill="#ffffff" stroke="#ffffff" stroke-width="3" stroke-opacity="0.85" fill-opacity="0.85" stroke-linejoin="round">Providence</text>
<text x="2066.0" y="720.9" font-size="21.5" font-weight="bold" textLength="118.3" lengthAdjust="spacingAndGlyphs" fill="#262626">Providence</text>
<text x="1827.0" y="862.3" font-size="20.8" font-weight="bold" textLength="96.7" lengthAdjust="spacingAndGlyphs" fill="#ffffff" stroke="#ffffff" stroke-width="3" stroke-opacity="0.85" fill-opacity="0.85" stroke-linejoin="round">New York</text>
<text x="1827.0" y="862.3" font-size="20.8" font-weight="bold" textLength="96.7" lengthAdjust="spacingAndGlyphs" fill="#262626">New York</text>
<text x="1706.0" y="958.6" font-size="20.3" font-weight="bold" textLength="115.7" lengthAdjust="spacingAndGlyphs" fill="#ffffff" stroke="#ffffff" stroke-width="3" stroke-opacity="0.85" fill-opacity="0.85" stroke-linejoin="round">Philadelphia</text>
<text x="1706.0" y="958.6" font-size="20.3" font-weight="bold" textLength="115.7" lengthAdjust="spacingAndGlyphs" fill="#262626">Philadelphia</text>
<text x="1176.4" y="1532.9" font-size="19.5" font-weight="bold" textLength="85.6" lengthAdjust="spacingAndGlyphs" fill="#ffffff" stroke="#ffffff" stroke-width="3" stroke-opacity="0.85" fill-opacity="0.85" stroke-linejoin="round">Charlotte</text>
<text x="1176.4" y="1532.9" font-size="19.5" font-weight="bold" textLength="85.6" lengthAdjust="spacingAndGlyphs" fill="#262626">Charlotte</text>
<text x="911.0" y="1064.0" font-size="20.3" font-weight="bold" text-anchor="end" fill="#ffffff" stroke="#ffffff" stroke-width="3" stroke-opacity="0.85" fill-opacity="0.85" stroke-linejoin="round">Cincinnati</text>
<text x="911.0" y="1064.0" font-size="20.3" font-weight="bold" text-anchor="end" fill="#262626">Cincinnati</text>
<text x="1966.0" y="728.0" font-size="20" textLength="74.4" lengthAdjust="spacingAndGlyphs" fill="#ffffff" stroke="#ffffff" stroke-width="3" stroke-opacity="0.85" fill-opacity="0.85" stroke-linejoin="round">Hartford</text>
<text x="1966.0" y="728.0" font-size="20" textLength="74.4" lengthAdjust="spacingAndGlyphs" fill="#4a4a4a">Hartford</text>
<text x="1551.4" y="920.3" font-size="20" textLength="95.9" lengthAdjust="spacingAndGlyphs" fill="#ffffff" stroke="#ffffff" stroke-width="3" stroke-opacity="0.85" fill-opacity="0.85" stroke-linejoin="round">Harrisburg</text>
<text x="1551.4" y="920.3" font-size="20" textLength="95.9" lengthAdjust="spacingAndGlyphs" fill="#4a4a4a">Harrisburg</text>
<text x="1769.0" y="924.2" font-size="20" textLength="69.5" lengthAdjust="spacingAndGlyphs" fill="#ffffff" stroke="#ffffff" stroke-width="3" stroke-opacity="0.85" fill-opacity="0.85" stroke-linejoin="round">Trenton</text>
<text x="1769.0" y="924.2" font-size="20" textLength="69.5" lengthAdjust="spacingAndGlyphs" fill="#4a4a4a">Trenton</text>
<text x="1704.0" y="1057.4" font-size="20" textLength="53.5" lengthAdjust="spacingAndGlyphs" fill="#ffffff" stroke="#ffffff" stroke-width="3" stroke-opacity="0.85" fill-opacity="0.85" stroke-linejoin="round">Dover</text>
<text x="1704.0" y="1057.4" font-size="20" textLength="53.5" lengthAdjust="spacingAndGlyphs" fill="#4a4a4a">Dover</text>
<text x="1093.0" y="1157.3" font-size="20" textLength="97.5" lengthAdjust="spacingAndGlyphs" fill="#ffffff" stroke="#ffffff" stroke-width="3" stroke-opacity="0.85" fill-opacity="0.85" stroke-linejoin="round">Charleston</text>
<text x="1093.0" y="1157.3" font-size="20" textLength="97.5" lengthAdjust="spacingAndGlyphs" fill="#4a4a4a">Charleston</text>
<text x="1264.8" y="1432.4" font-size="20" textLength="109.5" lengthAdjust="spacingAndGlyphs" fill="#ffffff" stroke="#ffffff" stroke-width="3" stroke-opacity="0.85" fill-opacity="0.85" stroke-linejoin="round">Greensboro</text>
<text x="1264.8" y="1432.4" font-size="20" textLength="109.5" lengthAdjust="spacingAndGlyphs" fill="#4a4a4a">Greensboro</text>
<text x="1395.3" y="1467.5" font-size="20" textLength="68.7" lengthAdjust="spacingAndGlyphs" fill="#ffffff" stroke="#ffffff" stroke-width="3" stroke-opacity="0.85" fill-opacity="0.85" stroke-linejoin="round">Raleigh</text>
<text x="1395.3" y="1467.5" font-size="20" textLength="68.7" lengthAdjust="spacingAndGlyphs" fill="#4a4a4a">Raleigh</text>
<text x="1022.0" y="1577.0" font-size="20" textLength="94.0" lengthAdjust="spacingAndGlyphs" fill="#ffffff" stroke="#ffffff" stroke-width="3" stroke-opacity="0.85" fill-opacity="0.85" stroke-linejoin="round">Greenville</text>
<text x="1022.0" y="1577.0" font-size="20" textLength="94.0" lengthAdjust="spacingAndGlyphs" fill="#4a4a4a">Greenville</text>
<text x="964.5" y="1446.4" font-size="20" text-anchor="end" fill="#ffffff" stroke="#ffffff" stroke-width="3" stroke-opacity="0.85" fill-opacity="0.85" stroke-linejoin="round">Knoxville</text>
<text x="964.5" y="1446.4" font-size="20" text-anchor="end" fill="#4a4a4a">Knoxville</text>
<text x="1670.3" y="794.2" font-size="21.5" font-weight="bold" font-style="italic" textLength="432.0" lengthAdjust="spacingAndGlyphs" fill="#ffffff" stroke="#ffffff" stroke-width="4" stroke-opacity="0.7" fill-opacity="0.7" stroke-linejoin="round">New York-Newark-Jersey City, NY-NJ-PA</text>
<text x="1670.3" y="794.2" font-size="21.5" font-weight="bold" font-style="italic" textLength="432.0" lengthAdjust="spacingAndGlyphs" fill="#2d7a45">New York-Newark-Jersey City, NY-NJ-PA</text>
<text x="1828.8" y="822.3" font-size="21.5" font-weight="bold" font-style="italic" textLength="114.7" lengthAdjust="spacingAndGlyphs" fill="#ffffff" stroke="#ffffff" stroke-width="4" stroke-opacity="0.7" fill-opacity="0.7" stroke-linejoin="round">Metro Area</text>
<text x="1828.8" y="822.3" font-size="21.5" font-weight="bold" font-style="italic" textLength="114.7" lengthAdjust="spacingAndGlyphs" fill="#2d7a45">Metro Area</text>
<text x="1371.5" y="1005.2" font-size="21.5" font-weight="bold" font-style="italic" textLength="358.2" lengthAdjust="spacingAndGlyphs" fill="#ffffff" stroke="#ffffff" stroke-width="4" stroke-opacity="0.7" fill-opacity="0.7" stroke-linejoin="round">Washington-Arlington-Alexandria,</text>
<text x="1371.5" y="1005.2" font-size="21.5" font-weight="bold" font-style="italic" textLength="358.2" lengthAdjust="spacingAndGlyphs" fill="#2d7a45">Washington-Arlington-Alexandria,</text>
<text x="1409.7" y="1031.8" font-size="21.5" font-weight="bold" font-style="italic" textLength="281.7" lengthAdjust="spacingAndGlyphs" fill="#ffffff" stroke="#ffffff" stroke-width="4" stroke-opacity="0.7" fill-opacity="0.7" stroke-linejoin="round">DC-VA-MD-WV Metro Area</text>
<text x="1409.7" y="1031.8" font-size="21.5" font-weight="bold" font-style="italic" textLength="281.7" lengthAdjust="spacingAndGlyphs" fill="#2d7a45">DC-VA-MD-WV Metro Area</text>
<text x="1254.2" y="1101.0" font-size="21.5" font-weight="bold" font-style="italic" textLength="305.9" lengthAdjust="spacingAndGlyphs" fill="#ffffff" stroke="#ffffff" stroke-width="4" stroke-opacity="0.7" fill-opacity="0.7" stroke-linejoin="round">Harrisonburg, VA Metro Area</text>
<text x="1254.2" y="1101.0" font-size="21.5" font-weight="bold" font-style="italic" textLength="305.9" lengthAdjust="spacingAndGlyphs" fill="#2d7a45">Harrisonburg, VA Metro Area</text>
<text x="1399.5" y="1192.4" font-size="21.5" font-weight="bold" font-style="italic" textLength="272.8" lengthAdjust="spacingAndGlyphs" fill="#ffffff" stroke="#ffffff" stroke-width="4" stroke-opacity="0.7" fill-opacity="0.7" stroke-linejoin="round">Richmond, VA Metro Area</text>
<text x="1399.5" y="1192.4" font-size="21.5" font-weight="bold" font-style="italic" textLength="272.8" lengthAdjust="spacingAndGlyphs" fill="#2d7a45">Richmond, VA Metro Area</text>
<text x="1016.0" y="1262.5" font-size="21.5" font-weight="bold" font-style="italic" textLength="452.3" lengthAdjust="spacingAndGlyphs" fill="#ffffff" stroke="#ffffff" stroke-width="4" stroke-opacity="0.7" fill-opacity="0.7" stroke-linejoin="round">Blacksburg-Christiansburg, VA Metro Area</text>
<text x="1016.0" y="1262.5" font-size="21.5" font-weight="bold" font-style="italic" textLength="452.3" lengthAdjust="spacingAndGlyphs" fill="#2d7a45">Blacksburg-Christiansburg, VA Metro Area</text>
<text x="1072.6" y="1651.0" font-size="21.85" font-weight="bold" font-style="italic" text-anchor="end" fill="#ffffff" stroke="#ffffff" stroke-width="4" stroke-opacity="0.7" fill-opacity="0.7" stroke-linejoin="round">Atlanta-Sandy Springs-Alpharetta, GA</text>
<text x="1072.6" y="1651.0" font-size="21.85" font-weight="bold" font-style="italic" text-anchor="end" fill="#2d7a45">Atlanta-Sandy Springs-Alpharetta, GA</text>
<text x="1520.6" y="1092.4" font-size="21.3" font-weight="bold" textLength="131.3" lengthAdjust="spacingAndGlyphs" fill="#ffffff" stroke="#ffffff" stroke-width="2.5" stroke-opacity="0.5" fill-opacity="0.5" stroke-linejoin="round">Washington</text>
<text x="1520.6" y="1092.4" font-size="21.3" font-weight="bold" textLength="131.3" lengthAdjust="spacingAndGlyphs" fill="#111">Washington</text>
<text x="1499.0" y="1256.0" font-size="20" textLength="93.0" lengthAdjust="spacingAndGlyphs" fill="#ffffff" stroke="#ffffff" stroke-width="3" stroke-opacity="0.9" fill-opacity="0.9" stroke-linejoin="round">Richmond</text>
<text x="1499.0" y="1256.0" font-size="20" textLength="93.0" lengthAdjust="spacingAndGlyphs" fill="#3a3a3a">Richmond</text>
<text x="1622.0" y="1339.2" font-size="19.5" textLength="69.4" lengthAdjust="spacingAndGlyphs" fill="#ffffff" stroke="#ffffff" stroke-width="2.5" stroke-opacity="0.5" fill-opacity="0.5" stroke-linejoin="round">Norfolk</text>
<text x="1622.0" y="1339.2" font-size="19.5" textLength="69.4" lengthAdjust="spacingAndGlyphs" fill="#444">Norfolk</text>
<rect x="928.9" y="676.5" width="57.3" height="113.9" fill="#000" fill-opacity="0.10"/>
<rect x="927.9" y="674.5" width="57.3" height="113.9" fill="#efefef"/>
<rect x="928.9" y="808.3" width="57.3" height="55.7" fill="#000" fill-opacity="0.10"/>
<rect x="927.9" y="806.3" width="57.3" height="55.7" fill="#efefef"/>
<rect x="2431.2" y="676" width="56.8" height="56.8" fill="#000" fill-opacity="0.10"/>
<rect x="2430.2" y="674" width="56.8" height="56.8" fill="#efefef"/>
<rect x="2431.2" y="751.1" width="56.8" height="56.7" fill="#000" fill-opacity="0.10"/>
<rect x="2430.2" y="749.1" width="56.8" height="56.7" fill="#efefef"/>
<path d="M941.8,701.7 H969.3 M955.5,688.1 V714.7" stroke="#323232" stroke-width="1.6" fill="none"/>
<path d="M941.8,758 H969.3" stroke="#323232" stroke-width="1.6" fill="none"/>
<path d="M944,833 L948.3,828.6 V821.8 H952.6 V825.5 L955.7,822 L968.7,833 M966.6,831 V846 H959.4 V837.6 H953.2 V846 H946.2 V831" stroke="#323232" stroke-width="1.5" fill="none" stroke-linejoin="miter"/>
<circle cx="2456.6" cy="700.4" r="11.6" stroke="#323232" stroke-width="1.6" fill="none"/>
<path d="M2464.8,708.6 L2472.2,716" stroke="#323232" stroke-width="1.8" fill="none"/>
<path d="M2458.4,765.2 L2472.2,772.3 L2458.4,779.5 L2444.5,772.3 Z" stroke="#323232" stroke-width="1.5" fill="none"/>
<path d="M2444.5,777.7 L2458.4,784.8 L2472.2,777.7 M2444.5,782.8 L2458.4,790.2 L2472.2,782.8" stroke="#323232" stroke-width="1.5" fill="none"/>
<text x="1158.0" y="1677.0" font-size="20" textLength="88.0" lengthAdjust="spacingAndGlyphs" fill="#ffffff" stroke="#ffffff" stroke-width="3" stroke-opacity="0.8" fill-opacity="0.8" stroke-linejoin="round">Columbia</text>
<text x="1158.0" y="1677.0" font-size="20" textLength="88.0" lengthAdjust="spacingAndGlyphs" fill="#4a4a4a">Columbia</text>
<text x="936.0" y="1677.0" font-size="21.5" font-weight="bold" font-style="italic" text-anchor="end" fill="#ffffff" stroke="#ffffff" stroke-width="4" stroke-opacity="0.7" fill-opacity="0.7" stroke-linejoin="round">Metro Area</text>
<text x="936.0" y="1677.0" font-size="21.5" font-weight="bold" font-style="italic" text-anchor="end" fill="#2d7a45">Metro Area</text>
<rect x="901.5" y="1654" width="1607.5" height="26.3" fill="#ffffff" fill-opacity="0.62"/>
<rect x="901.5" y="1680.2" width="1607.5" height="1" fill="#ffffff" fill-opacity="0.9"/>
<text x="910.0" y="1673.6" font-size="21.5" textLength="591.0" lengthAdjust="spacingAndGlyphs" fill="#6b6b6b">VGIN, Esri, TomTom, Garmin, FAO, NOAA, USGS, EPA, USFWS</text>
<text x="2351.4" y="1673.6" font-size="21.5" textLength="152.0" lengthAdjust="spacingAndGlyphs" fill="#6b6b6b">Powered by Esri</text>
</svg>
</svg>
</body></html>
